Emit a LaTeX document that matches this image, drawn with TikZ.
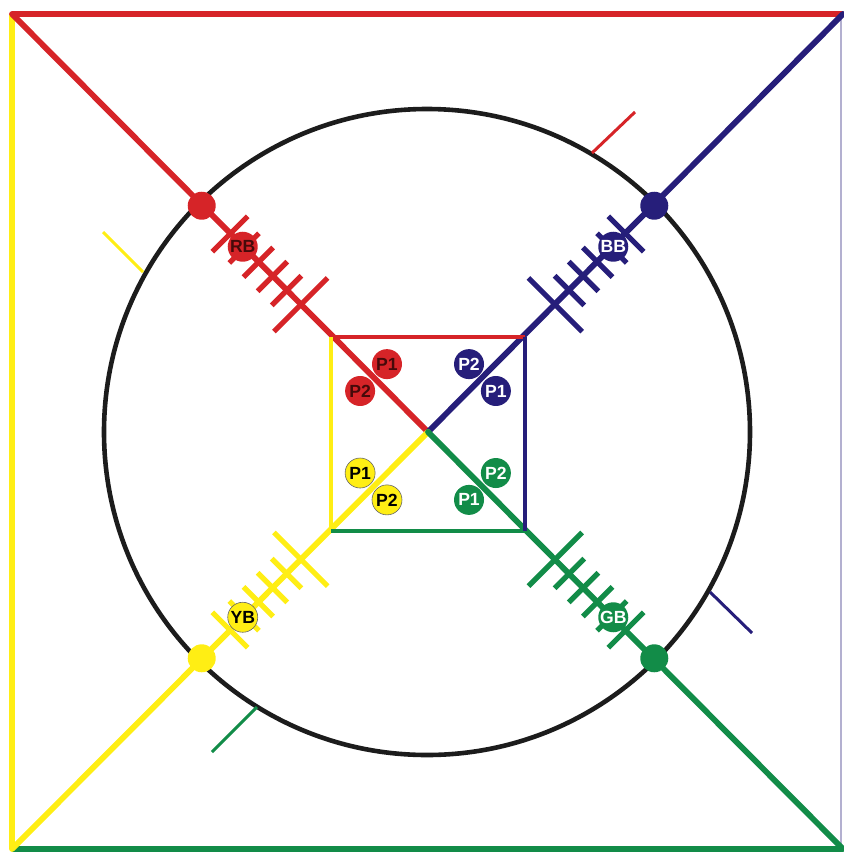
\documentclass[tikz,border=0pt]{standalone}
\usepackage{fontspec}
\setmainfont{Liberation Sans}
\usetikzlibrary{calc}
\definecolor{myred}{RGB}{214,36,40}
\definecolor{myblue}{RGB}{38,30,122}
\definecolor{myyellow}{RGB}{255,238,20}
\definecolor{mygreen}{RGB}{18,140,72}
\definecolor{myblack}{RGB}{28,28,28}
\definecolor{redtxt}{RGB}{70,10,10}
\tikzset{
  thick line/.style={line width=2.9pt, line cap=round},
  tickline/.style={line width=2.6pt},
  strayline/.style={line width=1.5pt},
  tag/.style={circle, inner sep=0pt, minimum size=15pt,
    font=\bfseries\fontsize{8.8}{9}\selectfont},
  dotmark/.style={circle, inner sep=0pt, minimum size=14pt}
}
\begin{document}
\begin{tikzpicture}[x=0.5pt,y=-0.5pt]
\useasboundingbox (0,0) rectangle (843,852);
% outer corners and centre
\coordinate (TL) at (12,14);
\coordinate (TR) at (843,14);
\coordinate (BL) at (12,849);
\coordinate (BR) at (843,849);
\coordinate (C) at (428,432);
% big circle
\draw[myblack, line width=2.3pt] (427,432) circle[radius=323];
% outer square
\draw[myred, line width=2.8pt] (TL) -- (TR);
\draw[myyellow, line width=2.8pt] (TL) -- (BL);
\draw[mygreen, line width=2.8pt] (BL) -- (BR);
\draw[myblue!35, line width=0.6pt] (841,14) -- (841,849);
% stray short lines
\coordinate (ys1) at (103,232); \coordinate (ys2) at (143,272);
\coordinate (rs1) at (592,153); \coordinate (rs2) at (635,112);
\coordinate (bs1) at (710,592); \coordinate (bs2) at (752,633);
\coordinate (gs1) at (212,752); \coordinate (gs2) at (257,707);
\draw[myyellow, strayline] (ys1) -- (ys2);
\draw[myred, strayline] (rs1) -- (rs2);
\draw[myblue, strayline] (bs1) -- (bs2);
\draw[mygreen, strayline] (gs1) -- (gs2);
% diagonals
\draw[myred, thick line] (TL) -- (C);
\draw[myblue, thick line] (TR) -- (C);
\draw[myyellow, thick line] (BL) -- (C);
\draw[mygreen, thick line] (BR) -- (C);
% inner square
\coordinate (iTL) at (331,337);
\coordinate (iTR) at (525,337);
\coordinate (iBL) at (331,531);
\coordinate (iBR) at (525,531);
\draw[myred, line width=2.2pt] (iTL) -- (iTR);
\draw[myyellow, line width=2.2pt] (iTL) -- (iBL);
\draw[mygreen, line width=2.2pt] (iBL) -- (iBR);
\draw[myblue, line width=2.2pt] (iTR) -- (iBR);
% antennas
\begin{scope}[shift={(428,432)}]
\foreach \ang/\col/\lab/\txt in {225/myred/RB/redtxt, 315/myblue/BB/white, 135/myyellow/YB/black, 45/mygreen/GB/white}{
  \foreach \r/\h in {280/25, 260/21, 240/21, 220/21, 200/21, 180/38}{
    \draw[\col, tickline] ($(\ang:\r)+({\ang+90}:\h)$) -- ($(\ang:\r)+({\ang-90}:\h)$);
  }
  \node[dotmark, fill=\col] (dot-\lab) at (\ang:320) {};
  \node[tag, fill=\col, text=\txt] (tag-\lab) at (\ang:262) {\lab};
  \node[tag, fill=\col, text=\txt] (p1-\lab) at ($(\ang:77)+({\ang+90}:19)$) {P1};
  \node[tag, fill=\col, text=\txt] (p2-\lab) at ($(\ang:77)+({\ang-90}:19)$) {P2};
}
\end{scope}
\draw[black!60, line width=0.3pt] (tag-YB) circle[radius=15];
\draw[black!60, line width=0.3pt] (p1-YB) circle[radius=15];
\draw[black!60, line width=0.3pt] (p2-YB) circle[radius=15];
\end{tikzpicture}
\end{document}
